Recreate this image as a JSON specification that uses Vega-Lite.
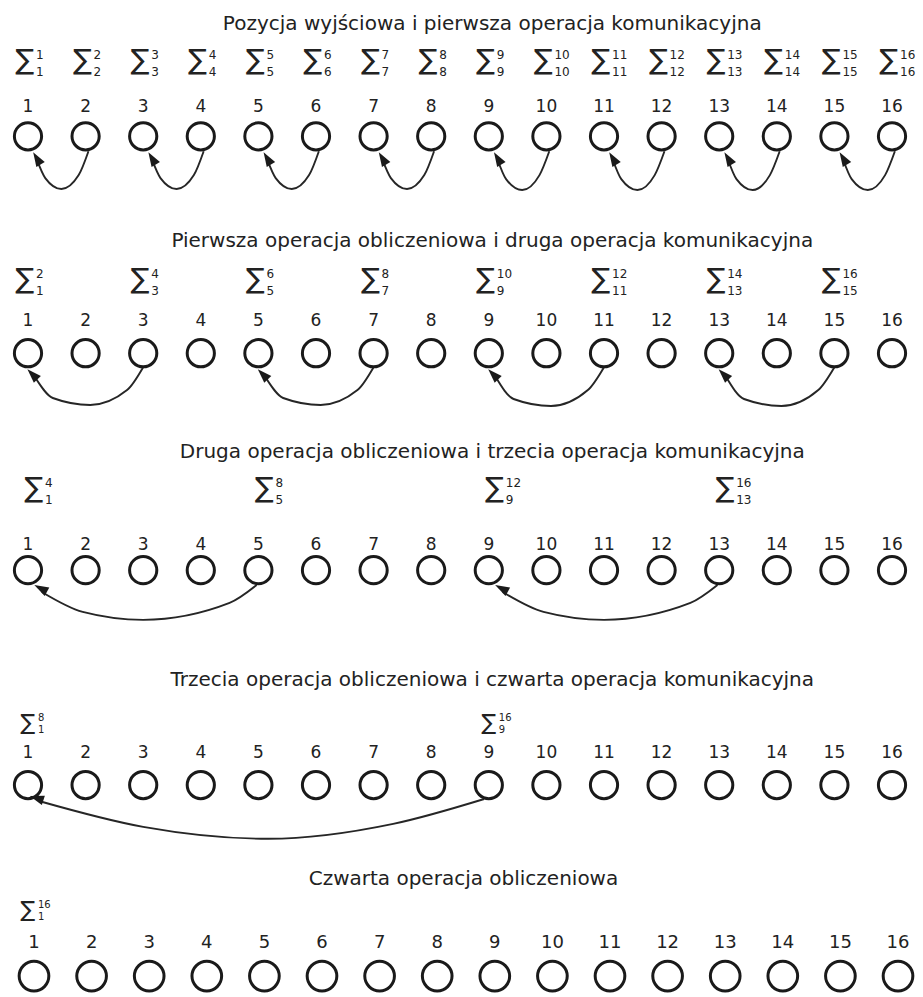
{
  "$schema": "https://vega.github.io/schema/vega-lite/v6.json",
  "width": 923,
  "height": 997,
  "padding": 0,
  "autosize": {"type": "fit", "contains": "padding"},
  "background": "white",
  "config": {"view": {"stroke": null}},
  "datasets": {
    "rows": [
      {"row": 1, "title": "Pozycja wyjściowa i pierwsza operacja komunikacyjna", "yTitle": 24, "ySig": 61, "yNum": 108, "yNode": 137},
      {"row": 2, "title": "Pierwsza operacja obliczeniowa i druga operacja komunikacyjna", "yTitle": 242, "ySig": 281, "yNum": 323, "yNode": 355},
      {"row": 3, "title": "Druga operacja obliczeniowa i trzecia operacja komunikacyjna", "yTitle": 454, "ySig": 491, "yNum": 548, "yNode": 573},
      {"row": 4, "title": "Trzecia operacja obliczeniowa i czwarta operacja komunikacyjna", "yTitle": 683, "ySig": 727, "yNum": 757, "yNode": 789},
      {"row": 5, "title": "Czwarta operacja obliczeniowa", "yTitle": 883, "ySig": 915, "yNum": 948, "yNode": 981}
    ],
    "nodes": [
      {"row":1,"n":1},{"row":1,"n":2},{"row":1,"n":3},{"row":1,"n":4},{"row":1,"n":5},{"row":1,"n":6},{"row":1,"n":7},{"row":1,"n":8},
      {"row":1,"n":9},{"row":1,"n":10},{"row":1,"n":11},{"row":1,"n":12},{"row":1,"n":13},{"row":1,"n":14},{"row":1,"n":15},{"row":1,"n":16},
      {"row":2,"n":1},{"row":2,"n":2},{"row":2,"n":3},{"row":2,"n":4},{"row":2,"n":5},{"row":2,"n":6},{"row":2,"n":7},{"row":2,"n":8},
      {"row":2,"n":9},{"row":2,"n":10},{"row":2,"n":11},{"row":2,"n":12},{"row":2,"n":13},{"row":2,"n":14},{"row":2,"n":15},{"row":2,"n":16},
      {"row":3,"n":1},{"row":3,"n":2},{"row":3,"n":3},{"row":3,"n":4},{"row":3,"n":5},{"row":3,"n":6},{"row":3,"n":7},{"row":3,"n":8},
      {"row":3,"n":9},{"row":3,"n":10},{"row":3,"n":11},{"row":3,"n":12},{"row":3,"n":13},{"row":3,"n":14},{"row":3,"n":15},{"row":3,"n":16},
      {"row":4,"n":1},{"row":4,"n":2},{"row":4,"n":3},{"row":4,"n":4},{"row":4,"n":5},{"row":4,"n":6},{"row":4,"n":7},{"row":4,"n":8},
      {"row":4,"n":9},{"row":4,"n":10},{"row":4,"n":11},{"row":4,"n":12},{"row":4,"n":13},{"row":4,"n":14},{"row":4,"n":15},{"row":4,"n":16},
      {"row":5,"n":1},{"row":5,"n":2},{"row":5,"n":3},{"row":5,"n":4},{"row":5,"n":5},{"row":5,"n":6},{"row":5,"n":7},{"row":5,"n":8},
      {"row":5,"n":9},{"row":5,"n":10},{"row":5,"n":11},{"row":5,"n":12},{"row":5,"n":13},{"row":5,"n":14},{"row":5,"n":15},{"row":5,"n":16}
    ],
    "sums": [
      {"row":1,"n":1,"top":"1","bottom":"1"},{"row":1,"n":2,"top":"2","bottom":"2"},{"row":1,"n":3,"top":"3","bottom":"3"},{"row":1,"n":4,"top":"4","bottom":"4"},
      {"row":1,"n":5,"top":"5","bottom":"5"},{"row":1,"n":6,"top":"6","bottom":"6"},{"row":1,"n":7,"top":"7","bottom":"7"},{"row":1,"n":8,"top":"8","bottom":"8"},
      {"row":1,"n":9,"top":"9","bottom":"9"},{"row":1,"n":10,"top":"10","bottom":"10"},{"row":1,"n":11,"top":"11","bottom":"11"},{"row":1,"n":12,"top":"12","bottom":"12"},
      {"row":1,"n":13,"top":"13","bottom":"13"},{"row":1,"n":14,"top":"14","bottom":"14"},{"row":1,"n":15,"top":"15","bottom":"15"},{"row":1,"n":16,"top":"16","bottom":"16"},
      {"row":2,"n":1,"top":"2","bottom":"1"},{"row":2,"n":3,"top":"4","bottom":"3"},{"row":2,"n":5,"top":"6","bottom":"5"},{"row":2,"n":7,"top":"8","bottom":"7"},
      {"row":2,"n":9,"top":"10","bottom":"9"},{"row":2,"n":11,"top":"12","bottom":"11"},{"row":2,"n":13,"top":"14","bottom":"13"},{"row":2,"n":15,"top":"16","bottom":"15"},
      {"row":3,"n":1,"top":"4","bottom":"1"},{"row":3,"n":5,"top":"8","bottom":"5"},{"row":3,"n":9,"top":"12","bottom":"9"},{"row":3,"n":13,"top":"16","bottom":"13"},
      {"row":4,"n":1,"top":"8","bottom":"1"},{"row":4,"n":9,"top":"16","bottom":"9"},
      {"row":5,"n":1,"top":"16","bottom":"1"}
    ],
    "arcs": [
      {"arc":"a1","x":2.05,"y":152},{"arc":"a1","x":1.88,"y":176},{"arc":"a1","x":1.58,"y":190},{"arc":"a1","x":1.30,"y":179},{"arc":"a1","x":1.15,"y":160},
      {"arc":"a2","x":4.05,"y":152},{"arc":"a2","x":3.88,"y":176},{"arc":"a2","x":3.58,"y":190},{"arc":"a2","x":3.30,"y":179},{"arc":"a2","x":3.15,"y":160},
      {"arc":"a3","x":6.05,"y":152},{"arc":"a3","x":5.88,"y":176},{"arc":"a3","x":5.58,"y":190},{"arc":"a3","x":5.30,"y":179},{"arc":"a3","x":5.15,"y":160},
      {"arc":"a4","x":8.05,"y":152},{"arc":"a4","x":7.88,"y":176},{"arc":"a4","x":7.58,"y":190},{"arc":"a4","x":7.30,"y":179},{"arc":"a4","x":7.15,"y":160},
      {"arc":"a5","x":10.05,"y":152},{"arc":"a5","x":9.88,"y":176},{"arc":"a5","x":9.58,"y":191},{"arc":"a5","x":9.30,"y":180},{"arc":"a5","x":9.15,"y":160},
      {"arc":"a6","x":12.05,"y":152},{"arc":"a6","x":11.88,"y":176},{"arc":"a6","x":11.58,"y":191},{"arc":"a6","x":11.30,"y":180},{"arc":"a6","x":11.15,"y":160},
      {"arc":"a7","x":14.05,"y":152},{"arc":"a7","x":13.88,"y":176},{"arc":"a7","x":13.58,"y":191},{"arc":"a7","x":13.30,"y":180},{"arc":"a7","x":13.15,"y":160},
      {"arc":"a8","x":16.05,"y":152},{"arc":"a8","x":15.88,"y":176},{"arc":"a8","x":15.58,"y":191},{"arc":"a8","x":15.30,"y":180},{"arc":"a8","x":15.15,"y":160},
      {"arc":"b1","x":3.0,"y":369},{"arc":"b1","x":2.72,"y":392},{"arc":"b1","x":2.08,"y":407},{"arc":"b1","x":1.43,"y":400},{"arc":"b1","x":1.12,"y":379},
      {"arc":"b2","x":7.0,"y":369},{"arc":"b2","x":6.72,"y":392},{"arc":"b2","x":6.08,"y":407},{"arc":"b2","x":5.43,"y":400},{"arc":"b2","x":5.12,"y":379},
      {"arc":"b3","x":11.0,"y":369},{"arc":"b3","x":10.72,"y":392},{"arc":"b3","x":10.08,"y":408},{"arc":"b3","x":9.43,"y":401},{"arc":"b3","x":9.12,"y":379},
      {"arc":"b4","x":15.0,"y":369},{"arc":"b4","x":14.72,"y":392},{"arc":"b4","x":14.08,"y":408},{"arc":"b4","x":13.43,"y":401},{"arc":"b4","x":13.12,"y":379},
      {"arc":"c1","x":4.97,"y":588},{"arc":"c1","x":4.5,"y":606},{"arc":"c1","x":3.0,"y":623},{"arc":"c1","x":1.95,"y":615},{"arc":"c1","x":1.24,"y":595},
      {"arc":"c2","x":12.97,"y":588},{"arc":"c2","x":12.5,"y":606},{"arc":"c2","x":11.0,"y":623},{"arc":"c2","x":9.95,"y":615},{"arc":"c2","x":9.24,"y":595},
      {"arc":"d1","x":8.92,"y":803},{"arc":"d1","x":7.34,"y":828},{"arc":"d1","x":5.17,"y":843},{"arc":"d1","x":3.0,"y":831},{"arc":"d1","x":1.19,"y":805}
    ],
    "heads": [
      {"row":1,"x":1.09,"y":153},{"row":1,"x":3.09,"y":153},{"row":1,"x":5.09,"y":153},{"row":1,"x":7.09,"y":153},
      {"row":1,"x":9.09,"y":153},{"row":1,"x":11.09,"y":153},{"row":1,"x":13.09,"y":153},{"row":1,"x":15.09,"y":153},
      {"row":2,"x":0.99,"y":371},{"row":2,"x":4.99,"y":371},{"row":2,"x":8.99,"y":371},{"row":2,"x":12.99,"y":371},
      {"row":3,"x":1.11,"y":588},{"row":3,"x":9.11,"y":588},
      {"row":4,"x":1.03,"y":800}
    ]
  },
  "layer": [
    {
      "data": {"name": "arcs"},
      "mark": {"type": "line", "interpolate": "monotone", "stroke": "#262626", "strokeWidth": 1.9},
      "encoding": {
        "x": {"field": "x", "type": "quantitative", "scale": {"domain": [0.514, 16.538], "nice": false, "zero": false}, "axis": null},
        "y": {"field": "y", "type": "quantitative", "scale": {"domain": [0, 997], "reverse": true, "nice": false, "zero": false}, "axis": null},
        "detail": {"field": "arc", "type": "nominal"}
      }
    },
    {
      "data": {"name": "heads"},
      "transform": [{"filter": "datum.row == 1"}],
      "mark": {"type": "point", "shape": "M0,0L0.75,2.2L-0.75,2.2Z", "filled": true, "color": "#1a1a1a", "size": 170, "angle": -31, "opacity": 1},
      "encoding": {
        "x": {"field": "x", "type": "quantitative", "scale": {"domain": [0.514, 16.538], "nice": false, "zero": false}, "axis": null},
        "y": {"field": "y", "type": "quantitative", "scale": {"domain": [0, 997], "reverse": true, "nice": false, "zero": false}, "axis": null}
      }
    },
    {
      "data": {"name": "heads"},
      "transform": [{"filter": "datum.row == 2"}],
      "mark": {"type": "point", "shape": "M0,0L0.75,2.2L-0.75,2.2Z", "filled": true, "color": "#1a1a1a", "size": 170, "angle": -44, "opacity": 1},
      "encoding": {
        "x": {"field": "x", "type": "quantitative", "scale": {"domain": [0.514, 16.538], "nice": false, "zero": false}, "axis": null},
        "y": {"field": "y", "type": "quantitative", "scale": {"domain": [0, 997], "reverse": true, "nice": false, "zero": false}, "axis": null}
      }
    },
    {
      "data": {"name": "heads"},
      "transform": [{"filter": "datum.row == 3"}],
      "mark": {"type": "point", "shape": "M0,0L0.75,2.2L-0.75,2.2Z", "filled": true, "color": "#1a1a1a", "size": 170, "angle": -62, "opacity": 1},
      "encoding": {
        "x": {"field": "x", "type": "quantitative", "scale": {"domain": [0.514, 16.538], "nice": false, "zero": false}, "axis": null},
        "y": {"field": "y", "type": "quantitative", "scale": {"domain": [0, 997], "reverse": true, "nice": false, "zero": false}, "axis": null}
      }
    },
    {
      "data": {"name": "heads"},
      "transform": [{"filter": "datum.row == 4"}],
      "mark": {"type": "point", "shape": "M0,0L0.75,2.2L-0.75,2.2Z", "filled": true, "color": "#1a1a1a", "size": 170, "angle": -72, "opacity": 1},
      "encoding": {
        "x": {"field": "x", "type": "quantitative", "scale": {"domain": [0.514, 16.538], "nice": false, "zero": false}, "axis": null},
        "y": {"field": "y", "type": "quantitative", "scale": {"domain": [0, 997], "reverse": true, "nice": false, "zero": false}, "axis": null}
      }
    },
    {
      "data": {"name": "nodes"},
      "transform": [
        {"filter": "datum.row <= 4"},
        {"lookup": "row", "from": {"data": {"name": "rows"}, "key": "row", "fields": ["yNode", "yNum"]}}
      ],
      "mark": {"type": "point", "shape": "circle", "filled": false, "stroke": "#1a1a1a", "strokeWidth": 3, "size": 740, "opacity": 1},
      "encoding": {
        "x": {"field": "n", "type": "quantitative", "scale": {"domain": [0.514, 16.538], "nice": false, "zero": false}, "axis": null},
        "y": {"field": "yNode", "type": "quantitative", "scale": {"domain": [0, 997], "reverse": true, "nice": false, "zero": false}, "axis": null}
      }
    },
    {
      "data": {"name": "nodes"},
      "transform": [
        {"filter": "datum.row == 5"},
        {"lookup": "row", "from": {"data": {"name": "rows"}, "key": "row", "fields": ["yNode", "yNum"]}}
      ],
      "mark": {"type": "point", "shape": "circle", "filled": false, "stroke": "#1a1a1a", "strokeWidth": 3, "size": 880, "opacity": 1, "xOffset": 6},
      "encoding": {
        "x": {"field": "n", "type": "quantitative", "scale": {"domain": [0.514, 16.538], "nice": false, "zero": false}, "axis": null},
        "y": {"field": "yNode", "type": "quantitative", "scale": {"domain": [0, 997], "reverse": true, "nice": false, "zero": false}, "axis": null}
      }
    },
    {
      "data": {"name": "nodes"},
      "transform": [
        {"filter": "datum.row <= 4"},
        {"lookup": "row", "from": {"data": {"name": "rows"}, "key": "row", "fields": ["yNode", "yNum"]}}
      ],
      "mark": {"type": "text", "font": "DejaVu Sans", "fontSize": 17, "color": "#222222", "align": "center", "baseline": "middle"},
      "encoding": {
        "x": {"field": "n", "type": "quantitative", "scale": {"domain": [0.514, 16.538], "nice": false, "zero": false}, "axis": null},
        "y": {"field": "yNum", "type": "quantitative", "scale": {"domain": [0, 997], "reverse": true, "nice": false, "zero": false}, "axis": null},
        "text": {"field": "n", "type": "nominal"}
      }
    },
    {
      "data": {"name": "nodes"},
      "transform": [
        {"filter": "datum.row == 5"},
        {"lookup": "row", "from": {"data": {"name": "rows"}, "key": "row", "fields": ["yNode", "yNum"]}}
      ],
      "mark": {"type": "text", "font": "DejaVu Sans", "fontSize": 18, "color": "#222222", "align": "center", "baseline": "middle", "xOffset": 6},
      "encoding": {
        "x": {"field": "n", "type": "quantitative", "scale": {"domain": [0.514, 16.538], "nice": false, "zero": false}, "axis": null},
        "y": {"field": "yNum", "type": "quantitative", "scale": {"domain": [0, 997], "reverse": true, "nice": false, "zero": false}, "axis": null},
        "text": {"field": "n", "type": "nominal"}
      }
    },
    {
      "data": {"name": "rows"},
      "transform": [{"filter": "datum.row <= 4"}],
      "mark": {"type": "text", "font": "DejaVu Sans", "fontSize": 20, "color": "#222222", "align": "center", "baseline": "middle"},
      "encoding": {
        "x": {"datum": 9.06, "type": "quantitative", "scale": {"domain": [0.514, 16.538], "nice": false, "zero": false}, "axis": null},
        "y": {"field": "yTitle", "type": "quantitative", "scale": {"domain": [0, 997], "reverse": true, "nice": false, "zero": false}, "axis": null},
        "text": {"field": "title", "type": "nominal"}
      }
    },
    {
      "data": {"name": "rows"},
      "transform": [{"filter": "datum.row == 5"}],
      "mark": {"type": "text", "font": "DejaVu Sans", "fontSize": 20, "color": "#222222", "align": "center", "baseline": "middle"},
      "encoding": {
        "x": {"datum": 8.56, "type": "quantitative", "scale": {"domain": [0.514, 16.538], "nice": false, "zero": false}, "axis": null},
        "y": {"field": "yTitle", "type": "quantitative", "scale": {"domain": [0, 997], "reverse": true, "nice": false, "zero": false}, "axis": null},
        "text": {"field": "title", "type": "nominal"}
      }
    },
    {
      "data": {"name": "sums"},
      "transform": [
        {"filter": "datum.row <= 2"},
        {"lookup": "row", "from": {"data": {"name": "rows"}, "key": "row", "fields": ["ySig"]}}
      ],
      "mark": {"type": "text", "font": "DejaVu Sans", "fontSize": 28, "color": "#222222", "align": "center", "baseline": "middle", "dx": -3},
      "encoding": {
        "x": {"field": "n", "type": "quantitative", "scale": {"domain": [0.514, 16.538], "nice": false, "zero": false}, "axis": null},
        "y": {"field": "ySig", "type": "quantitative", "scale": {"domain": [0, 997], "reverse": true, "nice": false, "zero": false}, "axis": null},
        "text": {"value": "∑"}
      }
    },
    {
      "data": {"name": "sums"},
      "transform": [
        {"filter": "datum.row <= 2"},
        {"lookup": "row", "from": {"data": {"name": "rows"}, "key": "row", "fields": ["ySig"]}}
      ],
      "mark": {"type": "text", "font": "DejaVu Sans", "fontSize": 12, "color": "#222222", "align": "left", "baseline": "middle", "dx": 8, "dy": -6},
      "encoding": {
        "x": {"field": "n", "type": "quantitative", "scale": {"domain": [0.514, 16.538], "nice": false, "zero": false}, "axis": null},
        "y": {"field": "ySig", "type": "quantitative", "scale": {"domain": [0, 997], "reverse": true, "nice": false, "zero": false}, "axis": null},
        "text": {"field": "top", "type": "nominal"}
      }
    },
    {
      "data": {"name": "sums"},
      "transform": [
        {"filter": "datum.row <= 2"},
        {"lookup": "row", "from": {"data": {"name": "rows"}, "key": "row", "fields": ["ySig"]}}
      ],
      "mark": {"type": "text", "font": "DejaVu Sans", "fontSize": 12, "color": "#222222", "align": "left", "baseline": "middle", "dx": 8, "dy": 11},
      "encoding": {
        "x": {"field": "n", "type": "quantitative", "scale": {"domain": [0.514, 16.538], "nice": false, "zero": false}, "axis": null},
        "y": {"field": "ySig", "type": "quantitative", "scale": {"domain": [0, 997], "reverse": true, "nice": false, "zero": false}, "axis": null},
        "text": {"field": "bottom", "type": "nominal"}
      }
    },
    {
      "data": {"name": "sums"},
      "transform": [
        {"filter": "datum.row == 3"},
        {"lookup": "row", "from": {"data": {"name": "rows"}, "key": "row", "fields": ["ySig"]}}
      ],
      "mark": {"type": "text", "font": "DejaVu Sans", "fontSize": 28, "color": "#222222", "align": "center", "baseline": "middle", "dx": 6},
      "encoding": {
        "x": {"field": "n", "type": "quantitative", "scale": {"domain": [0.514, 16.538], "nice": false, "zero": false}, "axis": null},
        "y": {"field": "ySig", "type": "quantitative", "scale": {"domain": [0, 997], "reverse": true, "nice": false, "zero": false}, "axis": null},
        "text": {"value": "∑"}
      }
    },
    {
      "data": {"name": "sums"},
      "transform": [
        {"filter": "datum.row == 3"},
        {"lookup": "row", "from": {"data": {"name": "rows"}, "key": "row", "fields": ["ySig"]}}
      ],
      "mark": {"type": "text", "font": "DejaVu Sans", "fontSize": 12, "color": "#222222", "align": "left", "baseline": "middle", "dx": 17, "dy": -6},
      "encoding": {
        "x": {"field": "n", "type": "quantitative", "scale": {"domain": [0.514, 16.538], "nice": false, "zero": false}, "axis": null},
        "y": {"field": "ySig", "type": "quantitative", "scale": {"domain": [0, 997], "reverse": true, "nice": false, "zero": false}, "axis": null},
        "text": {"field": "top", "type": "nominal"}
      }
    },
    {
      "data": {"name": "sums"},
      "transform": [
        {"filter": "datum.row == 3"},
        {"lookup": "row", "from": {"data": {"name": "rows"}, "key": "row", "fields": ["ySig"]}}
      ],
      "mark": {"type": "text", "font": "DejaVu Sans", "fontSize": 12, "color": "#222222", "align": "left", "baseline": "middle", "dx": 17, "dy": 11},
      "encoding": {
        "x": {"field": "n", "type": "quantitative", "scale": {"domain": [0.514, 16.538], "nice": false, "zero": false}, "axis": null},
        "y": {"field": "ySig", "type": "quantitative", "scale": {"domain": [0, 997], "reverse": true, "nice": false, "zero": false}, "axis": null},
        "text": {"field": "bottom", "type": "nominal"}
      }
    },
    {
      "data": {"name": "sums"},
      "transform": [
        {"filter": "datum.row >= 4"},
        {"lookup": "row", "from": {"data": {"name": "rows"}, "key": "row", "fields": ["ySig"]}}
      ],
      "mark": {"type": "text", "font": "DejaVu Sans", "fontSize": 22, "color": "#222222", "align": "center", "baseline": "middle", "dx": 0},
      "encoding": {
        "x": {"field": "n", "type": "quantitative", "scale": {"domain": [0.514, 16.538], "nice": false, "zero": false}, "axis": null},
        "y": {"field": "ySig", "type": "quantitative", "scale": {"domain": [0, 997], "reverse": true, "nice": false, "zero": false}, "axis": null},
        "text": {"value": "∑"}
      }
    },
    {
      "data": {"name": "sums"},
      "transform": [
        {"filter": "datum.row >= 4"},
        {"lookup": "row", "from": {"data": {"name": "rows"}, "key": "row", "fields": ["ySig"]}}
      ],
      "mark": {"type": "text", "font": "DejaVu Sans", "fontSize": 10, "color": "#222222", "align": "left", "baseline": "middle", "dx": 10, "dy": -5},
      "encoding": {
        "x": {"field": "n", "type": "quantitative", "scale": {"domain": [0.514, 16.538], "nice": false, "zero": false}, "axis": null},
        "y": {"field": "ySig", "type": "quantitative", "scale": {"domain": [0, 997], "reverse": true, "nice": false, "zero": false}, "axis": null},
        "text": {"field": "top", "type": "nominal"}
      }
    },
    {
      "data": {"name": "sums"},
      "transform": [
        {"filter": "datum.row >= 4"},
        {"lookup": "row", "from": {"data": {"name": "rows"}, "key": "row", "fields": ["ySig"]}}
      ],
      "mark": {"type": "text", "font": "DejaVu Sans", "fontSize": 10, "color": "#222222", "align": "left", "baseline": "middle", "dx": 10, "dy": 7},
      "encoding": {
        "x": {"field": "n", "type": "quantitative", "scale": {"domain": [0.514, 16.538], "nice": false, "zero": false}, "axis": null},
        "y": {"field": "ySig", "type": "quantitative", "scale": {"domain": [0, 997], "reverse": true, "nice": false, "zero": false}, "axis": null},
        "text": {"field": "bottom", "type": "nominal"}
      }
    }
  ]
}
